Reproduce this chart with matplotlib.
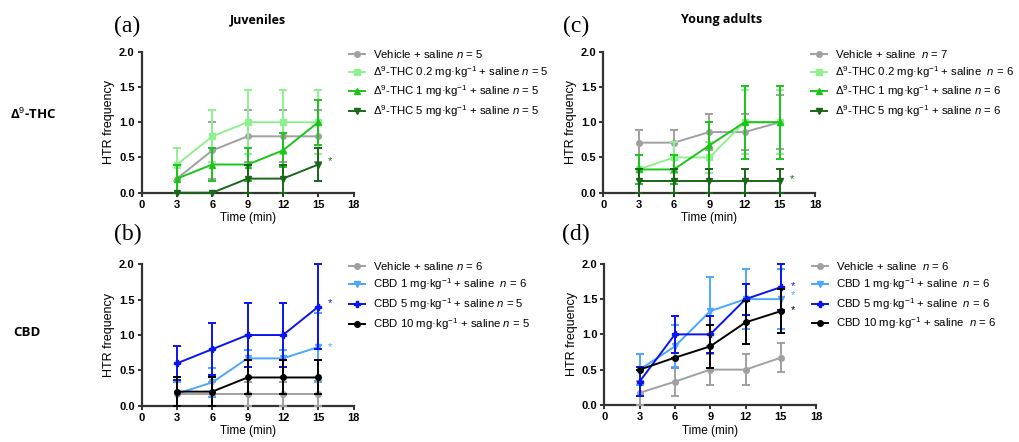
import numpy as np
import matplotlib
matplotlib.use('Agg')
import matplotlib.pyplot as plt
from matplotlib.lines import Line2D

plt.rcParams['font.family'] = ['Liberation Sans', 'DejaVu Sans']
plt.rcParams['mathtext.fontset'] = 'custom'
plt.rcParams['mathtext.rm'] = 'Liberation Sans'
plt.rcParams['mathtext.it'] = 'Liberation Sans:italic'

times = [3, 6, 9, 12, 15]

# (a) juveniles, THC
a_labels = ['Vehicle + saline $n$ = 5',
            'Δ$^9$-THC 0.2 mg·kg$^{-1}$ + saline $n$ = 5',
            'Δ$^9$-THC 1 mg·kg$^{-1}$ + saline $n$ = 5',
            'Δ$^9$-THC 5 mg·kg$^{-1}$ + saline $n$ = 5']
a_mean = [[0.2, 0.6, 0.8, 0.8, 0.8],
          [0.4, 0.8, 1.0, 1.0, 1.0],
          [0.2, 0.4, 0.4, 0.6, 1.0],
          [0.0, 0.0, 0.2, 0.2, 0.4]]
a_err = [[0.2, 0.4, 0.37, 0.37, 0.37],
         [0.24, 0.37, 0.45, 0.45, 0.45],
         [0.2, 0.24, 0.24, 0.24, 0.32],
         [0.0, 0.0, 0.2, 0.2, 0.24]]

# (b) juveniles, CBD
b_labels = ['Vehicle + saline $n$ = 6',
            'CBD 1 mg·kg$^{-1}$ + saline  $n$ = 6',
            'CBD 5 mg·kg$^{-1}$ + saline $n$ = 5',
            'CBD 10 mg·kg$^{-1}$ + saline $n$ = 5']
b_mean = [[0.17, 0.17, 0.17, 0.17, 0.17],
          [0.17, 0.33, 0.67, 0.67, 0.83],
          [0.6, 0.8, 1.0, 1.0, 1.4],
          [0.2, 0.2, 0.4, 0.4, 0.4]]
b_err = [[0.17, 0.17, 0.17, 0.17, 0.17],
         [0.17, 0.21, 0.12, 0.12, 0.48],
         [0.24, 0.37, 0.45, 0.45, 0.6],
         [0.2, 0.2, 0.24, 0.24, 0.24]]

# (c) young adults, THC
c_labels = ['Vehicle + saline  $n$ = 7',
            'Δ$^9$-THC 0.2 mg·kg$^{-1}$ + saline  $n$ = 6',
            'Δ$^9$-THC 1 mg·kg$^{-1}$ + saline $n$ = 6',
            'Δ$^9$-THC 5 mg·kg$^{-1}$ + saline $n$ = 6']
c_mean = [[0.71, 0.71, 0.86, 0.86, 1.0],
          [0.33, 0.5, 0.5, 1.0, 1.0],
          [0.33, 0.33, 0.67, 1.0, 1.0],
          [0.17, 0.17, 0.17, 0.17, 0.17]]
c_err = [[0.18, 0.18, 0.26, 0.26, 0.38],
         [0.21, 0.22, 0.22, 0.45, 0.45],
         [0.21, 0.21, 0.33, 0.52, 0.52],
         [0.17, 0.17, 0.17, 0.17, 0.17]]

# (d) young adults, CBD
d_labels = ['Vehicle + saline  $n$ = 6',
            'CBD 1 mg·kg$^{-1}$ + saline  $n$ = 6',
            'CBD 5 mg·kg$^{-1}$ + saline  $n$ = 6',
            'CBD 10 mg·kg$^{-1}$ + saline  $n$ = 6']
d_mean = [[0.17, 0.33, 0.5, 0.5, 0.67],
          [0.5, 0.83, 1.33, 1.5, 1.5],
          [0.33, 1.0, 1.0, 1.5, 1.67],
          [0.5, 0.67, 0.83, 1.17, 1.33]]
d_err = [[0.17, 0.21, 0.22, 0.22, 0.21],
         [0.22, 0.31, 0.49, 0.43, 0.43],
         [0.21, 0.26, 0.26, 0.22, 0.33],
         [0.0, 0.0, 0.31, 0.31, 0.31]]

thc_colors = ['#a0a0a0', '#90f090', '#1cc41c', '#1a661a']
cbd_colors = ['#a0a0a0', '#4da6ff', '#0a14f0', '#000000']
thc_markers = ['o', 's', '^', 'v']
cbd_markers = ['o', 'v', 'P', 'o']

fig = plt.figure(figsize=(10.19, 4.42), dpi=100)
pos = {'a': [0.139, 0.564, 0.208, 0.319], 'b': [0.139, 0.082, 0.208, 0.320],
       'c': [0.592, 0.564, 0.208, 0.319], 'd': [0.593, 0.084, 0.208, 0.319]}

panels = [('a', a_labels, a_mean, a_err, thc_colors, thc_markers, [(3, 0.45)]),
          ('b', b_labels, b_mean, b_err, cbd_colors, cbd_markers, [(2, 1.45), (1, 0.83)]),
          ('c', c_labels, c_mean, c_err, thc_colors, thc_markers, [(3, 0.2)]),
          ('d', d_labels, d_mean, d_err, cbd_colors, cbd_markers, [(2, 1.69), (1, 1.56), (3, 1.35)])]

for key, labels, means, errs, cols, mks, stars in panels:
    ax = fig.add_axes(pos[key])
    handles = []
    for i in range(4):
        ax.errorbar(times, means[i], yerr=errs[i], color=cols[i], marker=mks[i],
                    markersize=4, lw=1.4, elinewidth=1.4, capsize=3, capthick=1.4,
                    clip_on=False, zorder=3 + i)
        handles.append(Line2D([], [], color=cols[i], marker=mks[i], markersize=4, lw=1.4))
    for idx, y in stars:
        ax.text(16, y, '*', color=cols[idx], fontsize=8, ha='center', va='center')
    ax.set_xlim(0, 18)
    ax.set_ylim(0, 2.0)
    ax.set_xticks([0, 3, 6, 9, 12, 15, 18])
    ax.set_yticks([0.0, 0.5, 1.0, 1.5, 2.0])
    ax.set_yticklabels(['0.0', '0.5', '1.0', '1.5', '2.0'])
    for s in ['top', 'right']:
        ax.spines[s].set_visible(False)
    for s in ['left', 'bottom']:
        ax.spines[s].set_linewidth(1.6)
        ax.spines[s].set_color('#333333')
    ax.tick_params(width=1.4, length=3, color='#333333', labelsize=8, pad=2)
    for t in ax.get_xticklabels() + ax.get_yticklabels():
        t.set_fontweight('bold')
    ax.set_xlabel('Time (min)', fontsize=8.5, labelpad=2)
    ax.set_ylabel('HTR frequency', fontsize=9, labelpad=3)
    ax.legend(handles, labels, loc='upper left', bbox_to_anchor=(0.93, 1.10), frameon=False,
              fontsize=8.2, handlelength=1.4, labelspacing=0.35, handletextpad=0.7)

fig.text(0.125, 0.94, '(a)', family='Liberation Serif', fontsize=17, ha='center', va='center')
fig.text(0.125, 0.47, '(b)', family='Liberation Serif', fontsize=17, ha='center', va='center')
fig.text(0.565, 0.94, '(c)', family='Liberation Serif', fontsize=17, ha='center', va='center')
fig.text(0.565, 0.47, '(d)', family='Liberation Serif', fontsize=17, ha='center', va='center')
fig.text(0.253, 0.955, 'Juveniles', family='Open Sans', fontweight='bold', fontsize=9, ha='center', va='center')
fig.text(0.708, 0.955, 'Young adults', family='Open Sans', fontweight='bold', fontsize=9, ha='center', va='center')
fig.text(0.01, 0.742, 'Δ$^9$-THC', family='Open Sans', fontweight='bold', fontsize=9.5, ha='left', va='center')
fig.text(0.013, 0.247, 'CBD', family='Open Sans', fontweight='bold', fontsize=9.5, ha='left', va='center')

fig.savefig('out.png', dpi=100)
